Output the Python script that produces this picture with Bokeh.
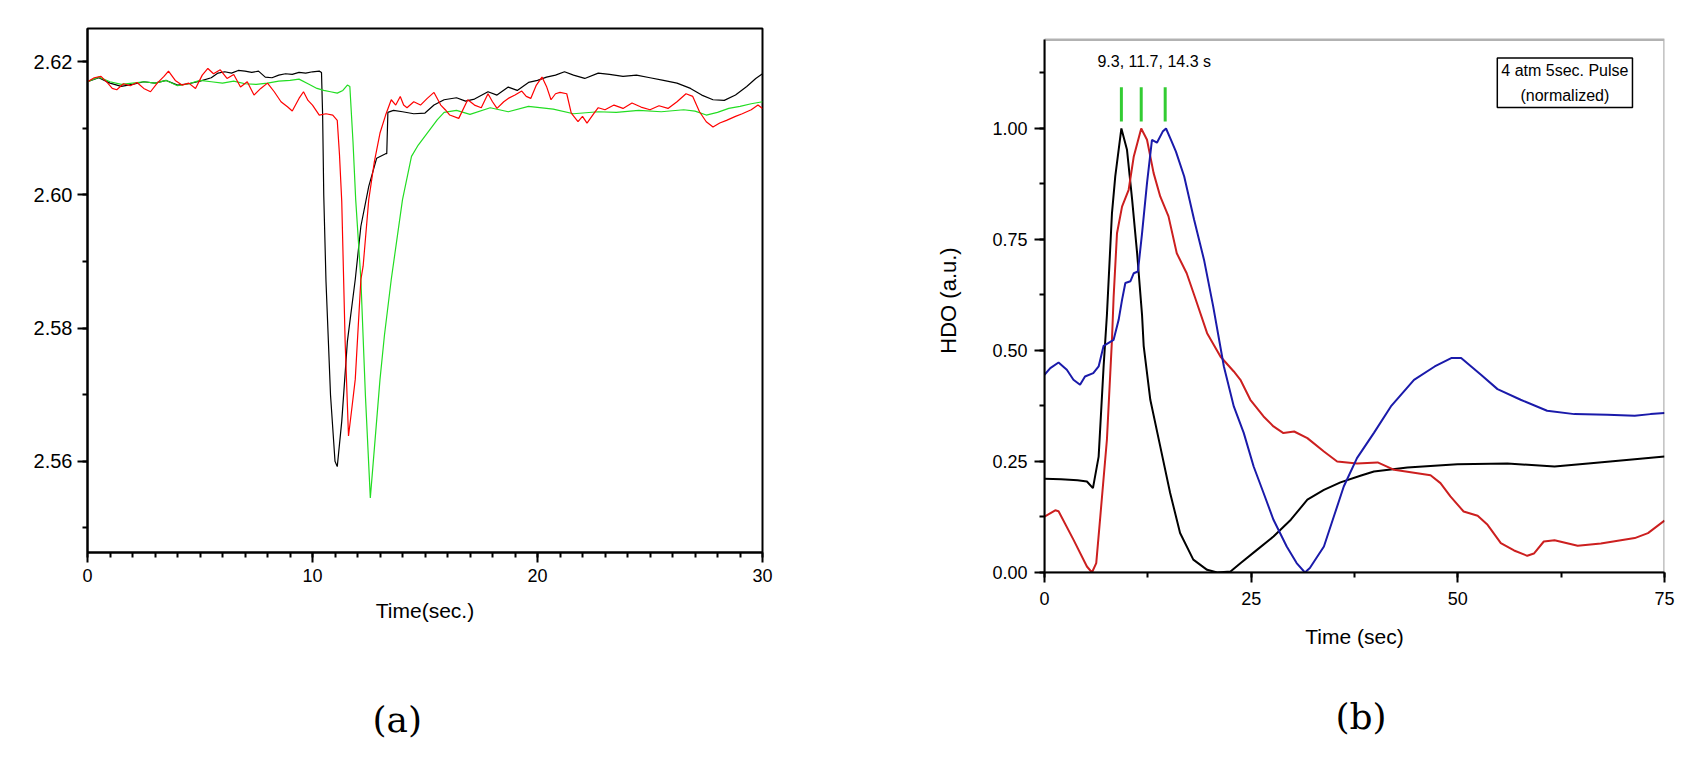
from bokeh.plotting import figure
from bokeh.layouts import row
from bokeh.models import SingleIntervalTicker, PrintfTickFormatter, Label, Title, BoxAnnotation
from bokeh.embed import file_html
from bokeh.resources import INLINE

# ---------------- Panel (a) data ----------------
a_black_t = [0, 0.5, 1, 1.5, 2, 2.5, 3, 3.5, 4, 4.5, 5, 5.5, 5.8, 6.1, 6.4, 6.7, 7.0, 7.3, 7.6, 7.9,
             8.2, 8.5, 8.8, 9.1, 9.4, 9.7, 10.0, 10.3, 10.4, 10.45, 10.5, 10.6, 10.8, 11.0, 11.1, 11.3,
             11.55, 11.9, 12.15, 12.5, 12.85, 13.25, 13.3, 13.35, 13.6, 14.0, 14.5, 15.0, 15.4, 15.85,
             16.4, 16.8, 17.2, 17.8, 18.2, 18.7, 19.1, 19.6, 20.0, 20.4, 20.8, 21.2, 21.6, 22.1, 22.7,
             23.2, 23.8, 24.4, 25.0, 25.6, 26.2, 26.8, 27.3, 27.8, 28.3, 28.8, 29.3, 29.7, 30.0]
a_black_v = [2.6170, 2.6176, 2.6168, 2.6163, 2.6166, 2.6170, 2.6168, 2.6172, 2.6165, 2.6167, 2.6171,
             2.6176, 2.6183, 2.6185, 2.6183, 2.6187, 2.6186, 2.6184, 2.6186, 2.6177, 2.6176, 2.6180,
             2.6182, 2.6181, 2.6184, 2.6183, 2.6185, 2.6186, 2.6184, 2.6120, 2.6000, 2.5870, 2.5700,
             2.5600, 2.5592, 2.5660, 2.5780, 2.5873, 2.5953, 2.6013, 2.6055, 2.6062, 2.6062, 2.6124,
             2.6127, 2.6125, 2.6122, 2.6123, 2.6135, 2.6143, 2.6146, 2.6141, 2.6144, 2.6155, 2.6150,
             2.6162, 2.6157, 2.6169, 2.6172, 2.6177, 2.6180, 2.6185, 2.6180, 2.6175, 2.6183, 2.6181,
             2.6178, 2.6180, 2.6176, 2.6172, 2.6168, 2.6160, 2.6150, 2.6143, 2.6142, 2.6150, 2.6163,
             2.6175, 2.6182]

a_red_t = [0, 0.3, 0.6, 0.9, 1.1, 1.3, 1.6, 1.9, 2.2, 2.5, 2.8, 3.1, 3.4, 3.6, 3.9, 4.2, 4.5, 4.8,
           5.1, 5.35, 5.6, 5.9, 6.2, 6.5, 6.8, 7.1, 7.4, 7.7, 8.0, 8.3, 8.6, 8.9, 9.1, 9.4, 9.6, 9.8,
           10.0, 10.3, 10.6, 10.9, 11.1, 11.2, 11.3, 11.45, 11.6, 11.75, 11.9, 12.15, 12.25, 12.5,
           12.75, 13.0, 13.25, 13.5, 13.7, 13.9, 14.05, 14.2, 14.5, 14.8, 15.1, 15.4, 15.7, 15.9,
           16.1, 16.5, 16.9, 17.2, 17.5, 17.8, 18.0, 18.2, 18.5, 18.7, 19.0, 19.3, 19.5, 19.7, 19.95,
           20.2, 20.4, 20.6, 20.8, 21.0, 21.3, 21.5, 21.8, 22.0, 22.2, 22.5, 22.7, 23.0, 23.4, 23.8,
           24.2, 24.6, 25.0, 25.4, 25.8, 26.2, 26.6, 26.9, 27.2, 27.5, 27.8, 28.1, 28.4, 28.8, 29.1,
           29.5, 29.8, 30.0]
a_red_v = [2.6170, 2.6176, 2.6178, 2.6168, 2.6160, 2.6158, 2.6167, 2.6164, 2.6169, 2.6160, 2.6155,
           2.6168, 2.6178, 2.6186, 2.6172, 2.6165, 2.6168, 2.6160, 2.6180, 2.6190, 2.6182, 2.6188,
           2.6175, 2.6181, 2.6162, 2.6170, 2.6150, 2.6160, 2.6168, 2.6155, 2.6140, 2.6132, 2.6126,
           2.6145, 2.6155, 2.6142, 2.6135, 2.6120, 2.6122, 2.6120, 2.6112, 2.6060, 2.5990, 2.5780,
           2.5638, 2.5680, 2.5723, 2.5873, 2.5893, 2.5993, 2.6050, 2.6093, 2.6120, 2.6143, 2.6135,
           2.6148, 2.6135, 2.6131, 2.6140, 2.6135, 2.6145, 2.6154, 2.6135, 2.6128, 2.6120, 2.6115,
           2.6143, 2.6135, 2.6131, 2.6152, 2.6140, 2.6130, 2.6140, 2.6145, 2.6150, 2.6156, 2.6148,
           2.6145, 2.6165, 2.6177, 2.6163, 2.6143, 2.6152, 2.6154, 2.6152, 2.6123, 2.6110, 2.6118,
           2.6108, 2.6122, 2.6131, 2.6128, 2.6135, 2.6130, 2.6138, 2.6132, 2.6128, 2.6134, 2.6130,
           2.6140, 2.6152, 2.6148, 2.6125, 2.6110, 2.6102, 2.6108, 2.6112, 2.6118, 2.6122, 2.6128,
           2.6135, 2.6130]

a_green_t = [0, 0.5, 1.0, 1.5, 2.0, 2.5, 3.0, 3.5, 4.0, 4.5, 5.0, 5.5, 6.0, 6.5, 7.0, 7.5, 8.0, 8.5,
             9.0, 9.4, 9.8, 10.2, 10.5, 10.8, 11.1, 11.35, 11.55, 11.66, 11.8, 11.92, 12.15, 12.35,
             12.57, 12.8, 13.0, 13.2, 13.5, 14.0, 14.4, 14.7, 15.1, 15.55, 15.85, 16.4, 17.0, 17.9,
             18.7, 19.6, 20.7, 21.6, 22.7, 23.5, 24.5, 25.5, 26.5, 27.0, 27.5, 28.0, 28.5, 29.0,
             29.5, 30.0]
a_green_v = [2.6170, 2.6177, 2.6170, 2.6166, 2.6168, 2.6170, 2.6168, 2.6172, 2.6164, 2.6167, 2.6172,
             2.6170, 2.6168, 2.6171, 2.6167, 2.6166, 2.6168, 2.6171, 2.6172, 2.6174, 2.6167, 2.6160,
             2.6157, 2.6155, 2.6153, 2.6157, 2.6165, 2.6163, 2.6080, 2.5993, 2.5873, 2.5700, 2.5545,
             2.5640, 2.5723, 2.5790, 2.5873, 2.5993, 2.6058, 2.6075, 2.6093, 2.6113, 2.6124, 2.6127,
             2.6121, 2.6131, 2.6125, 2.6133, 2.6129, 2.6122, 2.6125, 2.6124, 2.6127, 2.6125, 2.6128,
             2.6126, 2.6120, 2.6124, 2.6130, 2.6133, 2.6137, 2.6140]

# ---------------- Panel (b) data ----------------
b_black_t = [0, 2, 4, 5.13, 5.86, 6.55, 7.15, 7.55, 8.16, 8.56, 9.3, 9.98, 10.6, 11.2, 11.8, 12.0, 12.8,
             14.0, 15.2, 16.4, 18.0, 19.67, 20.9, 22.5, 23.7, 25.7, 27.7, 29.8, 31.8, 33.8, 35.8, 38.3,
             39.85, 43.9, 49.95, 56.0, 61.7, 66.1, 71.4, 75]
b_black_v = [0.211, 0.210, 0.208, 0.205, 0.190, 0.261, 0.464, 0.58, 0.809, 0.892, 1.0, 0.952, 0.84,
             0.72, 0.58, 0.51, 0.389, 0.284, 0.179, 0.089, 0.029, 0.006, 0.0, 0.002, 0.021, 0.051,
             0.081, 0.119, 0.164, 0.186, 0.203, 0.2185, 0.2275, 0.2365, 0.244, 0.2455, 0.2387, 0.2462,
             0.2553, 0.2613]

b_red_t = [0, 1.3, 1.7, 3.5, 5.13, 5.74, 6.26, 6.75, 7.55, 8.16, 8.36, 8.77, 9.38, 10.18, 10.8, 11.7,
           12.4, 13.2, 14.0, 15.0, 16.0, 17.2, 18.2, 19.67, 21.3, 22.9, 23.7, 24.9, 26.5, 27.7, 28.9,
           30.2, 31.8, 33.8, 35.4, 37.8, 40.3, 42.3, 46.7, 47.9, 49.1, 50.7, 52.4, 53.6, 55.2, 56.8,
           58.4, 59.2, 60.4, 61.7, 64.5, 67.3, 71.4, 73.0, 75]
b_red_v = [0.126, 0.140, 0.138, 0.074, 0.0135, 0.0, 0.021, 0.126, 0.299, 0.524, 0.62, 0.764, 0.824,
           0.862, 0.937, 1.0, 0.9745, 0.8995, 0.847, 0.802, 0.719, 0.674, 0.620, 0.539, 0.486, 0.4527,
           0.434, 0.389, 0.3514, 0.329, 0.314, 0.3176, 0.3027, 0.2725, 0.250, 0.2455, 0.248, 0.2313,
           0.2192, 0.2013, 0.1713, 0.1374, 0.1277, 0.1074, 0.0662, 0.0496, 0.0376, 0.0427, 0.0698,
           0.0728, 0.0601, 0.0653, 0.0775, 0.0887, 0.1171]

b_blue_t = [0, 0.7, 1.7, 2.7, 3.5, 4.3, 4.9, 5.9, 6.55, 7.15, 8.36, 8.97, 9.38, 9.78, 10.4, 10.8, 11.3,
            11.8, 12.4, 13.0, 13.6, 14.3, 14.7, 15.3, 15.9, 16.9, 18.1, 19.3, 20.4, 21.7, 22.9, 24.1,
            25.3, 26.5, 27.7, 29.3, 30.5, 31.5, 32.1, 33.8, 35.0, 36.2, 37.8, 39.85, 41.9, 44.7, 47.2,
            49.2, 50.4, 52.8, 54.8, 57.6, 60.8, 64.1, 68.1, 71.4, 73.3, 75]
b_blue_v = [0.4453, 0.4603, 0.473, 0.4565, 0.434, 0.4227, 0.4415, 0.449, 0.464, 0.5106, 0.524, 0.569,
            0.614, 0.652, 0.656, 0.674, 0.678, 0.764, 0.877, 0.9745, 0.968, 0.993, 1.0, 0.9745, 0.948,
            0.892, 0.7944, 0.704, 0.60, 0.464, 0.374, 0.3145, 0.2387, 0.179, 0.1187, 0.0586, 0.0212,
            0.0, 0.01, 0.0586, 0.126, 0.1937, 0.2575, 0.3145, 0.374, 0.434, 0.464, 0.4829, 0.4829,
            0.4453, 0.413, 0.389, 0.3642, 0.3567, 0.3552, 0.3529, 0.3567, 0.359]

peak_t = [9.3, 11.7, 14.6]
peak_mark_low = [1.016, 1.016, 1.016]
peak_mark_high = [1.093, 1.093, 1.093]

FONT = "Liberation Sans"
SERIF = "DejaVu Serif"


def style(p):
    p.xgrid.visible = False
    p.ygrid.visible = False
    p.outline_line_color = "black"
    p.outline_line_width = 2
    p.background_fill_color = "white"
    p.border_fill_color = "white"
    for ax in (p.xaxis[0], p.yaxis[0]):
        ax.axis_line_width = 2
        ax.major_tick_in = 0
        ax.major_tick_out = 10
        ax.minor_tick_in = 0
        ax.minor_tick_out = 5
        ax.major_tick_line_width = 2
        ax.minor_tick_line_width = 2
        ax.major_label_text_font = FONT
        ax.axis_label_text_font = FONT
        ax.axis_label_text_font_style = "normal"
        ax.major_label_text_color = "black"
        ax.axis_label_text_color = "black"


def panel_letter(p, letter, spacer_px, offset):
    # empty spacer title to push the panel letter down, then the letter itself
    p.add_layout(Title(text=" ", standoff=0, text_font=SERIF, text_font_size=f"{spacer_px}px",
                       text_font_style="normal"), "below")
    p.add_layout(Title(text=letter, align="left", offset=offset, standoff=0, text_font=SERIF,
                       text_font_size="36px", text_font_style="normal", text_color="black"), "below")


# ---------------- Panel (a) ----------------
pa = figure(frame_width=675, frame_height=524, x_range=(0, 30), y_range=(2.5463, 2.625),
            min_border_left=87, min_border_right=140, min_border_top=28, min_border_bottom=200,
            output_backend="svg", toolbar_location=None)
style(pa)
pa.xaxis[0].ticker = SingleIntervalTicker(interval=10, num_minor_ticks=10)
pa.yaxis[0].ticker = SingleIntervalTicker(interval=0.02, num_minor_ticks=2)
pa.yaxis[0].formatter = PrintfTickFormatter(format="%.2f")
pa.xaxis[0].major_label_text_font_size = "18px"
pa.yaxis[0].major_label_text_font_size = "20px"
pa.xaxis[0].major_label_standoff = 6
pa.yaxis[0].major_label_standoff = 5
pa.xaxis[0].axis_label = "Time(sec.)"
pa.xaxis[0].axis_label_text_font_size = "21px"
pa.xaxis[0].axis_label_standoff = 14

pa.line(a_black_t, a_black_v, line_color="black", line_width=1.2)
pa.line(a_green_t, a_green_v, line_color="#22dd22", line_width=1.2)
pa.line(a_red_t, a_red_v, line_color="#ff0000", line_width=1.2)

panel_letter(pa, "(a)", 60, 285)

# ---------------- Panel (b) ----------------
pb = figure(frame_width=620, frame_height=544, x_range=(0, 75), y_range=(0, 1.2252),
            min_border_left=142, min_border_right=15, min_border_top=28, min_border_bottom=180,
            output_backend="svg", toolbar_location=None)
style(pb)
pb.outline_line_color = None
pb.yaxis[0].bounds = (0, 1.2)
pb.xaxis[0].ticker = SingleIntervalTicker(interval=25, num_minor_ticks=2)
pb.yaxis[0].ticker = SingleIntervalTicker(interval=0.25, num_minor_ticks=2)
pb.yaxis[0].formatter = PrintfTickFormatter(format="%.2f")
pb.xaxis[0].major_label_text_font_size = "18px"
pb.yaxis[0].major_label_text_font_size = "18px"
pb.xaxis[0].major_label_standoff = 9
pb.yaxis[0].major_label_standoff = 7
pb.xaxis[0].axis_label = "Time (sec)"
pb.xaxis[0].axis_label_text_font_size = "21px"
pb.xaxis[0].axis_label_standoff = 17
pb.yaxis[0].axis_label = "HDO (a.u.)"
pb.yaxis[0].axis_label_text_font_size = "22px"
pb.yaxis[0].axis_label_standoff = 28

pb.add_layout(BoxAnnotation(left=0, right=75, bottom=0, top=1.2, fill_alpha=0,
                            line_color="black", line_width=2.5))

pb.line(b_black_t, b_black_v, line_color="black", line_width=2)
pb.line(b_red_t, b_red_v, line_color="#cc1f1f", line_width=2)
pb.line(b_blue_t, b_blue_v, line_color="#1a1aaa", line_width=2)
pb.segment(x0=peak_t, y0=peak_mark_low, x1=peak_t, y1=peak_mark_high, line_color="#33cc33",
           line_width=3)

pb.add_layout(Label(x=13.27, y=1.1507, text="9.3, 11.7, 14.3 s", text_align="center",
                    text_baseline="middle", text_font=FONT, text_font_size="16px", text_color="black"))
pb.add_layout(Label(x=62.95, y=1.103, text="4 atm 5sec. Pulse\n(normalized)", text_align="center",
                    text_baseline="middle", text_font=FONT, text_font_size="16px", text_color="black",
                    text_line_height=1.45, border_line_color="black", border_line_width=1.5,
                    background_fill_color="white", padding=4))

panel_letter(pb, "(b)", 36, 291)

layout = row(pa, pb)
open("out.html", "w").write(file_html(layout, INLINE))
